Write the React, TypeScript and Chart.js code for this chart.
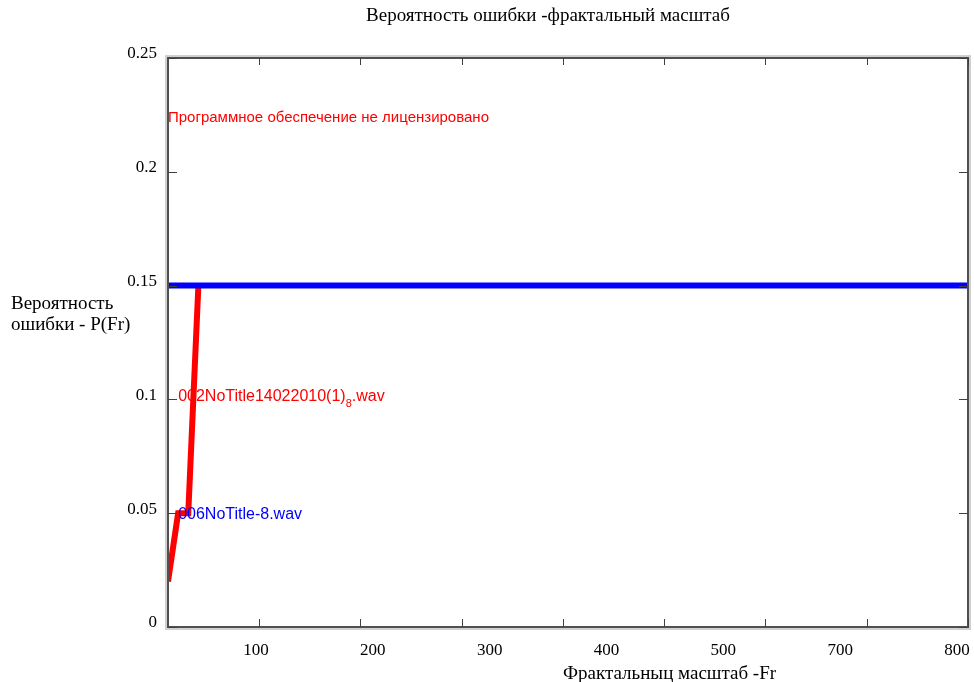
import React, { useEffect, useRef } from "react";
import { Chart, registerables } from "chart.js";

Chart.register(...registerables);

// ---- text ----
const chartTitle = "Вероятность ошибки -фрактальный масштаб";
const yAxisTitleLines = ["Вероятность", "ошибки - P(Fr)"];
const xAxisTitle = "Фрактальныц масштаб -Fr";
const watermark = "Программное обеспечение не лицензировано";

// ---- series ----
const redSeriesName = "002NoTitle14022010(1)";
const redSeriesSub = "8";
const redSeriesTail = ".wav";
const redX = [10, 20, 30, 40];
const redY = [0.02, 0.05, 0.05, 0.15];

const blueSeriesName = "006NoTitle-8.wav";
const blueX = [10, 800];
const blueY = [0.15, 0.15];

// label anchors in data units [x, y]
const redLabelAt = [20, 0.1];
const blueLabelAt = [20, 0.05];
const watermarkAt = [10, 0.225];

// ---- axes ----
const xMin = 10;
const xMax = 800;
const xTickValues = [100, 200, 300, 400, 500, 600, 700, 800];
const xTickLabels = ["100", "200", "300", "400", "500", "700", "800"];
const yMin = 0;
const yMax = 0.25;
const yTickValues = [0, 0.05, 0.1, 0.15, 0.2, 0.25];
const yTickLabels = ["0", "0.05", "0.1", "0.15", "0.2", "0.25"];

const SERIF = "'Liberation Serif', 'Times New Roman', serif";
const SANS = "'Liberation Sans', Arial, sans-serif";

const zeroPad = (axis: any) => {
  axis.paddingLeft = 0;
  axis.paddingRight = 0;
  axis.paddingTop = 0;
  axis.paddingBottom = 0;
};

const decorPlugin = {
  id: "decor",
  afterDatasetsDraw(chart: any) {
    const { ctx, chartArea: a, scales } = chart;
    const xs = scales.x;
    const ys = scales.y;
    ctx.save();
    // light outer frame
    ctx.strokeStyle = "#d0d0d0";
    ctx.lineWidth = 2;
    ctx.strokeRect(a.left - 2, a.top - 2, a.right - a.left + 4, a.bottom - a.top + 4);
    // dark frame
    ctx.strokeStyle = "#505050";
    ctx.lineWidth = 2;
    ctx.strokeRect(a.left, a.top, a.right - a.left, a.bottom - a.top);
    // inside tick marks
    ctx.strokeStyle = "#404040";
    ctx.lineWidth = 1;
    ctx.beginPath();
    for (const v of xTickValues) {
      const px = Math.round(xs.getPixelForValue(v)) + 0.5;
      ctx.moveTo(px, a.bottom);
      ctx.lineTo(px, a.bottom - 8);
      ctx.moveTo(px, a.top);
      ctx.lineTo(px, a.top + 7);
    }
    for (const v of yTickValues) {
      const py = Math.round(ys.getPixelForValue(v)) + 0.5;
      ctx.moveTo(a.left, py);
      ctx.lineTo(a.left + 9, py);
      ctx.moveTo(a.right, py);
      ctx.lineTo(a.right - 9, py);
    }
    ctx.stroke();
    ctx.restore();
  },
  afterDraw(chart: any) {
    const { ctx, chartArea: a, scales } = chart;
    const xs = scales.x;
    const ys = scales.y;
    ctx.save();
    ctx.textBaseline = "alphabetic";
    // title
    ctx.fillStyle = "#000";
    ctx.font = `19px ${SERIF}`;
    ctx.textAlign = "center";
    ctx.fillText(chartTitle, a.left + (a.right - a.left) * 0.475, 21);
    // y axis title (horizontal)
    ctx.textAlign = "left";
    ctx.font = `19px ${SERIF}`;
    ctx.fillText(yAxisTitleLines[0], 11, 309);
    ctx.fillText(yAxisTitleLines[1], 11, 330);
    // x axis title
    ctx.font = `19px ${SERIF}`;
    ctx.fillText(xAxisTitle, a.left + 395, 679);

    // watermark
    ctx.font = `15px ${SANS}`;
    ctx.fillStyle = "#ff0000";
    ctx.fillText(watermark, xs.getPixelForValue(watermarkAt[0]), ys.getPixelForValue(watermarkAt[1]) + 7);

    // red series label with subscript
    let rx = xs.getPixelForValue(redLabelAt[0]);
    const ry = ys.getPixelForValue(redLabelAt[1]) + 2;
    ctx.font = `16px ${SANS}`;
    ctx.fillText(redSeriesName, rx, ry);
    rx += ctx.measureText(redSeriesName).width;
    ctx.font = `11px ${SANS}`;
    ctx.fillText(redSeriesSub, rx, ry + 6);
    rx += ctx.measureText(redSeriesSub).width;
    ctx.font = `16px ${SANS}`;
    ctx.fillText(redSeriesTail, rx, ry);

    // blue series label
    ctx.fillStyle = "#0000ff";
    ctx.fillText(blueSeriesName, xs.getPixelForValue(blueLabelAt[0]), ys.getPixelForValue(blueLabelAt[1]) + 6);
    ctx.restore();
  },
};

export default function App() {
  const canvasRef = useRef<HTMLCanvasElement | null>(null);

  useEffect(() => {
    if (!canvasRef.current) return;
    const chart = new Chart(canvasRef.current, {
      type: "line",
      data: {
        datasets: [
          {
            label: blueSeriesName,
            data: blueX.map((x, i) => ({ x, y: blueY[i] })),
            borderColor: "#0000ff",
            backgroundColor: "#0000ff",
            borderWidth: 6,
            pointRadius: 0,
            borderCapStyle: "butt",
            tension: 0,
            order: 0,
          },
          {
            label: redSeriesName + redSeriesSub + redSeriesTail,
            data: redX.map((x, i) => ({ x, y: redY[i] })),
            borderColor: "#ff0000",
            backgroundColor: "#ff0000",
            borderWidth: 6,
            pointRadius: 0,
            borderCapStyle: "butt",
            borderJoinStyle: "miter",
            tension: 0,
            order: 1,
          },
        ],
      },
      options: {
        animation: false,
        responsive: true,
        maintainAspectRatio: false,
        layout: { padding: { left: 0, right: 6, top: 58, bottom: 22 } },
        plugins: {
          legend: { display: false },
          tooltip: { enabled: false },
          title: { display: false },
        },
        scales: {
          x: {
            type: "linear",
            position: "bottom",
            min: xMin,
            max: xMax,
            afterBuildTicks: (axis: any) => {
              axis.ticks = xTickValues.map((v) => ({ value: v }));
            },
            afterFit: (axis: any) => {
              axis.height = 0;
              zeroPad(axis);
            },
            ticks: { display: false },
            grid: { display: false, drawTicks: false },
            border: { display: false },
          },
          xl: {
            type: "linear",
            position: "bottom",
            min: -0.753,
            max: 6.094,
            afterBuildTicks: (axis: any) => {
              axis.ticks = xTickLabels.map((_, i) => ({ value: i }));
            },
            afterFit: (axis: any) => {
              axis.height = 33;
              zeroPad(axis);
            },
            ticks: {
              autoSkip: false,
              maxRotation: 0,
              padding: 13,
              color: "#000",
              font: { family: SERIF, size: 17 },
              callback: (_v: any, i: number) => xTickLabels[i] ?? "",
            },
            grid: { display: false, drawTicks: false },
            border: { display: false },
          },
          y: {
            type: "linear",
            position: "left",
            min: yMin,
            max: yMax,
            afterBuildTicks: (axis: any) => {
              axis.ticks = yTickValues.map((v) => ({ value: v }));
            },
            afterFit: (axis: any) => {
              axis.width = 168;
              zeroPad(axis);
            },
            ticks: {
              padding: 11,
              labelOffset: -4,
              color: "#000",
              font: { family: SERIF, size: 17 },
              callback: (_v: any, i: number) => yTickLabels[i] ?? "",
            },
            grid: { display: false, drawTicks: false },
            border: { display: false },
          },
        },
      },
      plugins: [decorPlugin],
    });
    return () => chart.destroy();
  }, []);

  return (
    <div
      style={{
        position: "fixed",
        left: 0,
        top: 0,
        width: 974,
        height: 682,
        background: "#ffffff",
      }}
    >
      <canvas ref={canvasRef} />
    </div>
  );
}
